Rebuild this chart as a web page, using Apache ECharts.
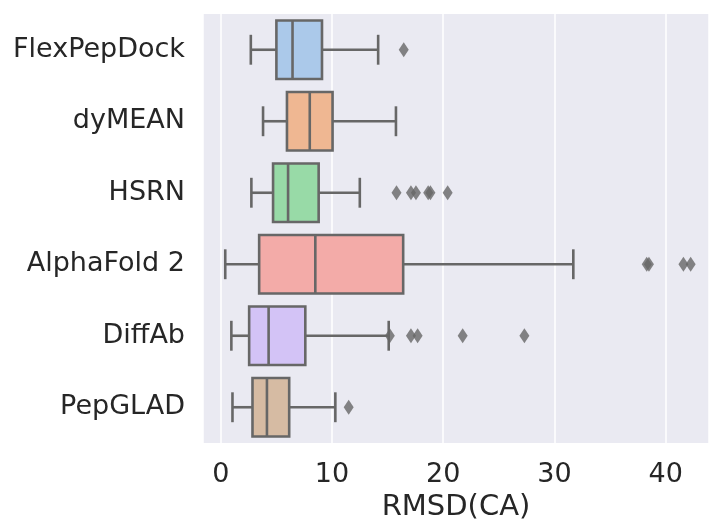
<!DOCTYPE html>
<html>
<head>
<meta charset="utf-8">
<script src="https://cdn.jsdelivr.net/npm/echarts@6/dist/echarts.min.js"></script>
<style>html,body{margin:0;padding:0;background:#fff;}#chart{width:710px;height:521px;}</style>
</head>
<body>
<div id="chart"></div>
<script>
const categories = ['FlexPepDock', 'dyMEAN', 'HSRN', 'AlphaFold 2', 'DiffAb', 'PepGLAD'];
const lowWhisker = [2.7, 3.8, 2.75, 0.4, 0.95, 1.05];
const q1 = [5.0, 5.95, 4.7, 3.45, 2.55, 2.85];
const median = [6.45, 8.0, 6.05, 8.5, 4.3, 4.15];
const q3 = [9.1, 10.05, 8.8, 16.4, 7.6, 6.15];
const highWhisker = [14.15, 15.75, 12.5, 31.7, 15.1, 10.3];
const outliers = [
  [16.45],
  [],
  [15.8, 17.1, 17.55, 18.65, 18.85, 20.4],
  [38.3, 38.5, 41.6, 42.25],
  [15.2, 17.1, 17.7, 21.75, 27.3],
  [11.5]
];
const xTicks = [0, 10, 20, 30, 40];

const palette = ['#abc9ea', '#efb792', '#98daa7', '#f3aba8', '#d3c3f6', '#d6bba3'];
const lineColor = '#676767';
const textColor = '#262626';
const fontFamily = 'DejaVu Sans';

const boxData = categories.map((c, i) => [i, lowWhisker[i], q1[i], median[i], q3[i], highWhisker[i]]);
const outlierData = [];
outliers.forEach((arr, i) => arr.forEach(v => outlierData.push([v, i])));

const chart = echarts.init(document.getElementById('chart'), null, {renderer: 'canvas'});
chart.setOption({
  animation: false,
  backgroundColor: '#ffffff',
  grid: {left: 203, right: 1, top: 14, bottom: 78, show: true, backgroundColor: '#eaeaf2', borderWidth: 0,
    containLabel: false, outerBoundsMode: 'none'},
  xAxis: {
    type: 'value', min: -1.6, max: 43.9,
    name: 'RMSD(CA)', nameLocation: 'middle', nameGap: 49,
    nameTextStyle: {fontSize: 29, color: textColor, fontFamily: fontFamily},
    axisLine: {show: false}, axisTick: {show: false},
    axisLabel: {fontSize: 27, color: textColor, fontFamily: fontFamily, margin: 18,
      showMinLabel: false, showMaxLabel: false,
      formatter: v => (xTicks.indexOf(v) >= 0 ? String(v) : '')},
    splitLine: {show: true, lineStyle: {color: '#ffffff', width: 1.5}}
  },
  yAxis: {
    type: 'category', data: categories, inverse: true,
    axisLine: {show: false}, axisTick: {show: false}, splitLine: {show: false},
    axisLabel: {fontSize: 27, color: textColor, fontFamily: fontFamily, margin: 18}
  },
  series: [
    {
      type: 'custom',
      data: boxData,
      encode: {x: [1, 2, 3, 4, 5], y: 0},
      renderItem: function (params, api) {
        const ci = api.value(0);
        const yc = api.coord([0, ci])[1];
        const band = api.size([0, 1])[1];
        const bh = band * 0.82;
        const ch = bh * 0.51;
        const xl = api.coord([api.value(1), ci])[0];
        const x1 = api.coord([api.value(2), ci])[0];
        const xm = api.coord([api.value(3), ci])[0];
        const x3 = api.coord([api.value(4), ci])[0];
        const xh = api.coord([api.value(5), ci])[0];
        const ls = {stroke: lineColor, lineWidth: 2.6, fill: null};
        return {
          type: 'group',
          children: [
            {type: 'line', shape: {x1: xl, y1: yc, x2: x1, y2: yc}, style: ls},
            {type: 'line', shape: {x1: x3, y1: yc, x2: xh, y2: yc}, style: ls},
            {type: 'line', shape: {x1: xl, y1: yc - ch / 2, x2: xl, y2: yc + ch / 2}, style: ls},
            {type: 'line', shape: {x1: xh, y1: yc - ch / 2, x2: xh, y2: yc + ch / 2}, style: ls},
            {type: 'rect', shape: {x: x1, y: yc - bh / 2, width: x3 - x1, height: bh},
              style: {fill: palette[ci], stroke: lineColor, lineWidth: 2.6}},
            {type: 'line', shape: {x1: xm, y1: yc - bh / 2, x2: xm, y2: yc + bh / 2}, style: ls}
          ]
        };
      }
    },
    {
      type: 'scatter',
      data: outlierData,
      symbol: 'diamond',
      symbolSize: [10, 15],
      itemStyle: {color: lineColor}
    }
  ]
});
</script>
</body>
</html>
